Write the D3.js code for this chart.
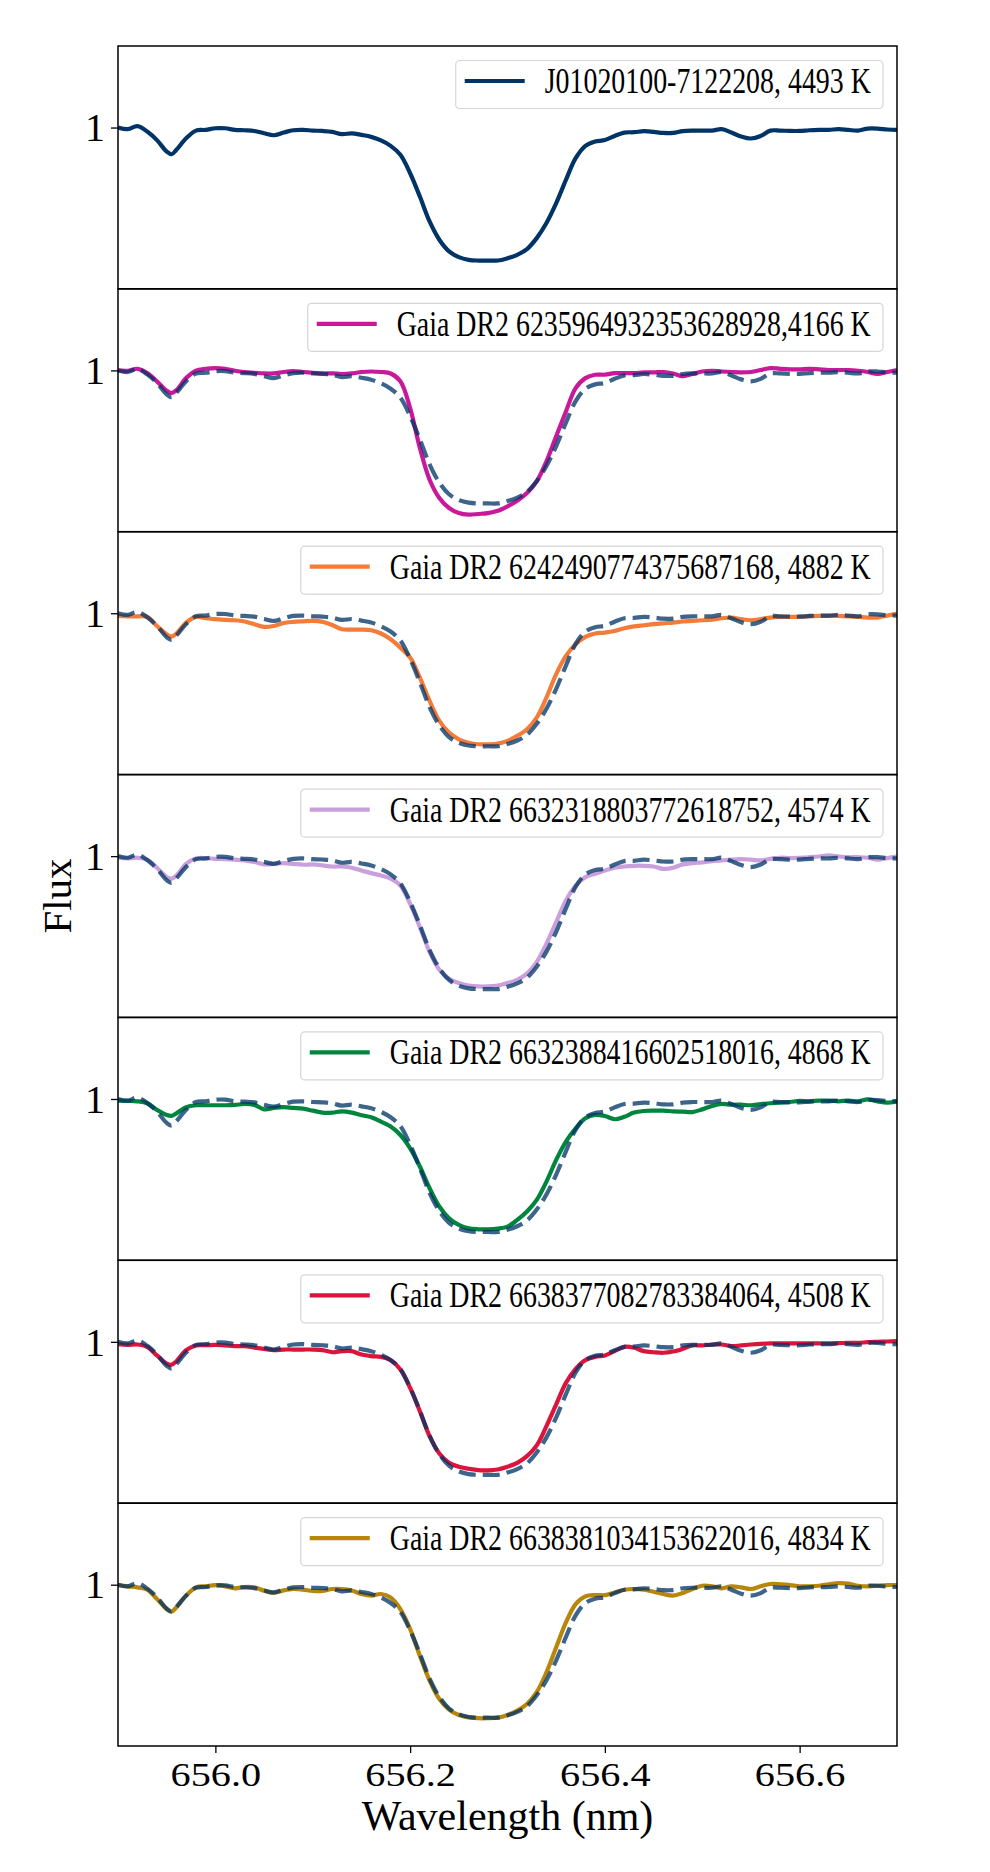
<html>
<meta charset="utf-8" />
<head>
<title>H-alpha profiles</title>
<script src="https://cdn.jsdelivr.net/npm/d3@7/dist/d3.min.js"></script>
<style>
	body { margin: 0; background: #fff; }
	text { font-family: "Liberation Serif", "Times New Roman", serif; }
</style>
</head>
<body>
<svg id="chart" width="990" height="1872"></svg>
<script>
// wavelength grid (nm)
const wavelength = [
	655.90, 655.91, 655.92, 655.93, 655.94, 655.95, 655.955, 655.96, 655.97, 655.98, 655.99,
	656.00, 656.01, 656.02, 656.03, 656.04, 656.05, 656.06, 656.07, 656.08, 656.09,
	656.10, 656.11, 656.12, 656.13, 656.14, 656.15, 656.16, 656.17, 656.18, 656.19,
	656.20, 656.21, 656.22, 656.23, 656.24, 656.25, 656.26, 656.27, 656.28, 656.29,
	656.30, 656.31, 656.32, 656.33, 656.34, 656.35, 656.36, 656.37, 656.38, 656.39,
	656.40, 656.41, 656.42, 656.43, 656.44, 656.45, 656.46, 656.47, 656.48, 656.49,
	656.50, 656.51, 656.52, 656.53, 656.54, 656.55, 656.56, 656.57, 656.58, 656.59,
	656.60, 656.61, 656.62, 656.63, 656.64, 656.65, 656.66, 656.67, 656.68, 656.69, 656.70
];

// reference star, also drawn dashed in the lower panels
const fluxJ0102 = [
	1.000, 0.991, 1.008, 0.978, 0.930, 0.866, 0.851, 0.876, 0.940, 0.983, 0.987,
	0.996, 0.996, 0.987, 0.985, 0.981, 0.968, 0.957, 0.972, 0.985, 0.987,
	0.983, 0.981, 0.976, 0.963, 0.968, 0.959, 0.948, 0.928, 0.898, 0.848,
	0.745, 0.615, 0.476, 0.374, 0.309, 0.277, 0.262, 0.258, 0.258, 0.258,
	0.271, 0.290, 0.322, 0.383, 0.467, 0.578, 0.708, 0.829, 0.898, 0.922,
	0.930, 0.953, 0.972, 0.974, 0.980, 0.976, 0.970, 0.970, 0.980, 0.983,
	0.983, 0.983, 0.991, 0.972, 0.950, 0.939, 0.953, 0.983, 0.983, 0.981,
	0.981, 0.985, 0.987, 0.987, 0.991, 0.987, 0.983, 0.994, 0.994, 0.989, 0.987
];
const flux6235 = [
	1.000, 0.998, 1.009, 0.985, 0.939, 0.887, 0.874, 0.890, 0.957, 0.998, 1.009,
	1.013, 1.009, 0.998, 0.991, 0.987, 0.983, 0.983, 0.991, 0.996, 0.991,
	0.987, 0.983, 0.983, 0.980, 0.983, 0.991, 0.994, 0.991, 0.983, 0.939,
	0.790, 0.567, 0.390, 0.288, 0.232, 0.204, 0.195, 0.199, 0.204, 0.217,
	0.242, 0.273, 0.316, 0.381, 0.493, 0.632, 0.771, 0.901, 0.957, 0.976,
	0.976, 0.985, 0.985, 0.985, 0.989, 0.989, 0.991, 0.983, 0.968, 0.980,
	0.994, 0.998, 0.994, 0.991, 0.989, 0.991, 1.002, 1.013, 1.009, 1.006,
	1.006, 1.009, 1.006, 1.002, 1.002, 1.002, 0.998, 0.991, 0.980, 0.991, 1.002
];
const flux6242 = [
	0.985, 0.983, 0.983, 0.980, 0.929, 0.883, 0.870, 0.887, 0.948, 0.980, 0.972,
	0.967, 0.963, 0.961, 0.954, 0.939, 0.924, 0.929, 0.946, 0.952, 0.955,
	0.957, 0.952, 0.935, 0.911, 0.909, 0.909, 0.905, 0.887, 0.855, 0.808,
	0.753, 0.641, 0.511, 0.400, 0.334, 0.297, 0.278, 0.269, 0.269, 0.273,
	0.288, 0.316, 0.353, 0.418, 0.530, 0.660, 0.762, 0.827, 0.868, 0.887,
	0.892, 0.901, 0.916, 0.927, 0.933, 0.939, 0.944, 0.948, 0.954, 0.957,
	0.961, 0.965, 0.972, 0.976, 0.967, 0.961, 0.967, 0.976, 0.980, 0.980,
	0.981, 0.983, 0.985, 0.985, 0.985, 0.983, 0.980, 0.976, 0.976, 0.987, 0.998
];
const flux6632a = [
	0.991, 0.987, 0.991, 0.980, 0.935, 0.883, 0.874, 0.892, 0.957, 0.987, 0.989,
	0.985, 0.983, 0.980, 0.976, 0.967, 0.954, 0.957, 0.961, 0.957, 0.952,
	0.954, 0.948, 0.942, 0.942, 0.935, 0.920, 0.905, 0.892, 0.874, 0.836,
	0.734, 0.604, 0.465, 0.366, 0.316, 0.292, 0.278, 0.273, 0.273, 0.278,
	0.292, 0.310, 0.344, 0.409, 0.511, 0.632, 0.753, 0.836, 0.883, 0.901,
	0.920, 0.935, 0.942, 0.946, 0.946, 0.942, 0.929, 0.935, 0.954, 0.961,
	0.965, 0.972, 0.976, 0.980, 0.983, 0.980, 0.976, 0.985, 0.991, 0.989,
	0.991, 0.994, 0.998, 1.004, 0.998, 0.994, 0.994, 0.991, 0.980, 0.989, 0.998
];
const flux6632b = [
	0.991, 0.989, 0.987, 0.976, 0.939, 0.911, 0.906, 0.920, 0.954, 0.965, 0.965,
	0.965, 0.965, 0.967, 0.972, 0.967, 0.942, 0.950, 0.954, 0.950, 0.946,
	0.935, 0.924, 0.924, 0.931, 0.924, 0.909, 0.898, 0.874, 0.846, 0.799,
	0.725, 0.623, 0.502, 0.400, 0.334, 0.297, 0.278, 0.273, 0.273, 0.277,
	0.288, 0.325, 0.372, 0.437, 0.539, 0.660, 0.762, 0.836, 0.892, 0.911,
	0.905, 0.887, 0.901, 0.924, 0.933, 0.935, 0.935, 0.931, 0.929, 0.927,
	0.942, 0.961, 0.972, 0.968, 0.968, 0.965, 0.972, 0.976, 0.980, 0.983,
	0.989, 0.987, 0.991, 0.991, 0.987, 0.991, 0.987, 0.998, 0.987, 0.980, 0.987
];
const flux6638a = [
	0.987, 0.983, 0.985, 0.972, 0.924, 0.879, 0.872, 0.892, 0.954, 0.980, 0.981,
	0.983, 0.980, 0.976, 0.976, 0.968, 0.961, 0.954, 0.957, 0.957, 0.957,
	0.957, 0.954, 0.942, 0.948, 0.948, 0.929, 0.920, 0.916, 0.898, 0.846,
	0.743, 0.613, 0.474, 0.377, 0.325, 0.303, 0.292, 0.284, 0.283, 0.288,
	0.303, 0.325, 0.362, 0.422, 0.530, 0.651, 0.771, 0.849, 0.898, 0.916,
	0.924, 0.948, 0.972, 0.967, 0.948, 0.942, 0.939, 0.946, 0.961, 0.980,
	0.980, 0.985, 0.985, 0.976, 0.980, 0.985, 0.989, 0.991, 0.991, 0.991,
	0.991, 0.991, 0.991, 0.991, 0.993, 0.994, 0.994, 0.998, 1.000, 1.002, 1.004
];
const flux6638b = [
	0.998, 0.991, 0.985, 0.972, 0.920, 0.864, 0.849, 0.874, 0.939, 0.985, 0.991,
	0.998, 0.991, 0.980, 0.987, 0.985, 0.967, 0.954, 0.968, 0.976, 0.972,
	0.965, 0.965, 0.976, 0.976, 0.968, 0.948, 0.939, 0.948, 0.929, 0.864,
	0.753, 0.604, 0.465, 0.362, 0.303, 0.273, 0.260, 0.255, 0.255, 0.258,
	0.273, 0.297, 0.334, 0.400, 0.511, 0.651, 0.790, 0.892, 0.935, 0.942,
	0.942, 0.957, 0.972, 0.976, 0.972, 0.961, 0.948, 0.939, 0.954, 0.976,
	0.994, 0.991, 0.980, 0.991, 0.985, 0.976, 0.991, 1.004, 1.002, 0.998,
	0.991, 0.991, 0.994, 1.002, 1.009, 1.006, 0.994, 0.991, 0.994, 0.998, 0.998
];

const starLabels = [
	'J01020100-7122208, 4493 K',
	'Gaia DR2 6235964932353628928,4166 K',
	'Gaia DR2 6242490774375687168, 4882 K',
	'Gaia DR2 6632318803772618752, 4574 K',
	'Gaia DR2 6632388416602518016, 4868 K',
	'Gaia DR2 6638377082783384064, 4508 K',
	'Gaia DR2 6638381034153622016, 4834 K'
];
const starFlux = [fluxJ0102, flux6235, flux6242, flux6632a, flux6632b, flux6638a, flux6638b];
const starColors = ['#003366', '#c8199a', '#f47c38', '#c9a0dc', '#00853e', '#dc143c', '#b8860b'];

const xTicks = [656.0, 656.2, 656.4, 656.6];
const yTicks = [1];

const svg = d3.select('#chart');
const plotLeft = 118, plotRight = 897, plotTop = 46, plotBottom = 1746;
const panelH = (plotBottom - plotTop) / starFlux.length;

const xScale = d3.scaleLinear().domain([655.9, 656.7]).range([plotLeft, plotRight]);

starFlux.forEach((flux, i) => {
	let y0 = plotTop + i * panelH;
	let yScale = d3.scaleLinear().domain([0.1, 1.455]).range([y0 + panelH, y0]);
	let g = svg.append('g');

	g.append('clipPath').attr('id', 'clip' + i)
		.append('rect').attr('x', plotLeft).attr('y', y0).attr('width', plotRight - plotLeft).attr('height', panelH);

	let line = d3.line()
		.x((d, j) => xScale(wavelength[j]))
		.y((d) => yScale(d))
		.curve(d3.curveCatmullRom.alpha(0.5));

	let plot = g.append('g').attr('clip-path', 'url(#clip' + i + ')');

	// 별 스펙트럼 (실선)
	plot.append('path')
		.attr('d', line(flux))
		.attr('fill', 'none')
		.attr('stroke', starColors[i])
		.attr('stroke-width', 4.2);

	// 기준 별은 점선으로 겹쳐 그린다
	if (i > 0) {
		plot.append('path')
			.attr('d', line(fluxJ0102))
			.attr('fill', 'none')
			.attr('stroke', '#003366')
			.attr('stroke-opacity', 0.76)
			.attr('stroke-width', 4.2)
			.attr('stroke-dasharray', '17,7');
	}

	// y axis, only "1"
	let yAxis = d3.axisLeft(yScale).tickValues(yTicks).tickSize(7).tickPadding(6).tickFormat(d3.format('d'));
	let yg = g.append('g').attr('transform', 'translate(' + plotLeft + ',0)').call(yAxis);
	yg.select('.domain').remove();
	yg.selectAll('.tick line').attr('stroke', '#000').attr('stroke-width', 1.3);
	yg.selectAll('.tick text').style('font-size', '40px').attr('fill', '#000').attr('dy', '0.33em');

	if (i == starFlux.length - 1) {
		let xAxis = d3.axisBottom(xScale).tickValues(xTicks).tickSize(7).tickPadding(10).tickFormat(d3.format('.1f'));
		let xg = g.append('g').attr('transform', 'translate(0,' + plotBottom + ')').call(xAxis);
		xg.select('.domain').remove();
		xg.selectAll('.tick line').attr('stroke', '#000').attr('stroke-width', 1.3);
		xg.selectAll('.tick text').style('font-size', '33px').attr('fill', '#000')
			.attr('transform', 'scale(1.22,1)');
	}

	// frame
	g.append('rect')
		.attr('x', plotLeft).attr('y', y0).attr('width', plotRight - plotLeft).attr('height', panelH)
		.attr('fill', 'none').attr('stroke', '#000').attr('stroke-width', 1.5);

	// legend (글자가 가로로 좁게 찍혀 있어서 scale로 줄인다)
	let lg = g.append('g');
	let box = lg.append('rect');
	let label = lg.append('text').text(starLabels[i]).style('font-size', '36px').attr('fill', '#000');
	let w = label.node().getComputedTextLength() * 0.775;
	let textEnd = plotRight - 26;
	let textStart = textEnd - w;
	let lineEnd = textStart - 20;
	let lineStart = lineEnd - 60;
	let ly = y0 + 35;
	label.attr('transform', 'translate(' + textStart + ',' + (ly + 12) + ') scale(0.775,1)');
	box.attr('x', lineStart - 9).attr('y', y0 + 14.5)
		.attr('width', plotRight - 14 - (lineStart - 9)).attr('height', 48)
		.attr('rx', 4).attr('fill', '#fff').attr('fill-opacity', 0.8)
		.attr('stroke', '#d6d6d6').attr('stroke-width', 1.2);
	lg.append('line')
		.attr('x1', lineStart).attr('x2', lineEnd).attr('y1', ly).attr('y2', ly)
		.attr('stroke', starColors[i]).attr('stroke-width', 4.2);
});

// axis titles
svg.append('text')
	.attr('x', (plotLeft + plotRight) / 2).attr('y', 1830)
	.attr('text-anchor', 'middle')
	.style('font-size', '42px')
	.text('Wavelength (nm)');

svg.append('text')
	.attr('transform', 'translate(71,' + (plotTop + plotBottom) / 2 + ') rotate(-90)')
	.attr('text-anchor', 'middle')
	.style('font-size', '41px')
	.text('Flux');
</script>
</body>
</html>
